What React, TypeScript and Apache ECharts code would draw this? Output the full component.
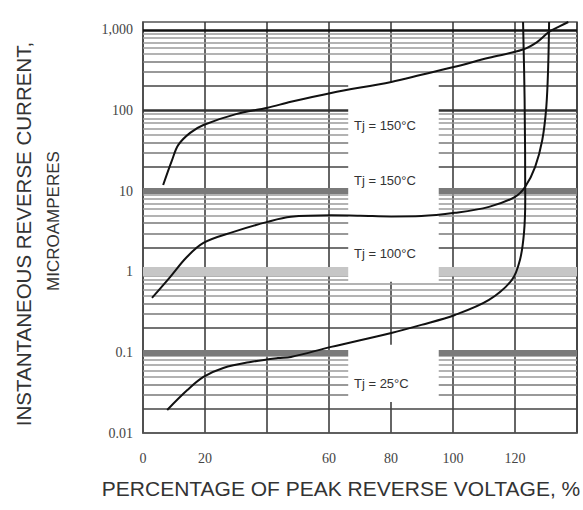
import React, { useEffect, useRef } from "react";
import * as echarts from "echarts";

// ---- Axis ticks / labels ----
const xTickValues = [0, 20, 40, 60, 80, 100, 120, 140];
const xTickLabels = ["0", "20", "", "60", "80", "100", "120", ""];
const yDecades = [0.01, 0.1, 1, 10, 100, 1000];
const yDecadeLabels = ["0.01", "0.1", "1", "10", "100", "1,000"];
const gridMultipliers = [1, 2, 3, 4, 5, 6, 7, 8, 9];

// ---- Curves (percent of peak reverse voltage, microamperes) ----
const upperX = [6.5, 9.4, 11.4, 15.2, 19.5, 30, 40.2, 47.7, 60.7, 80.1, 89.8, 100.6, 111.6, 122.3, 127, 131, 134.5, 137.2];
const upperY = [11.9, 24.4, 37.4, 52.7, 66, 90, 108, 128, 165, 226, 277, 348, 450, 565, 700, 944, 1110, 1250];

const middleX = [2.9, 8.8, 14, 19.5, 29.2, 40.2, 47.7, 60.7, 70, 80.1, 89.8, 100.6, 111.6, 120, 123.3, 126.5, 128.8, 130.1, 130.7, 131];
const middleY = [0.473, 0.863, 1.5, 2.28, 3.12, 4.15, 4.79, 5.0, 4.95, 4.85, 4.9, 5.37, 6.37, 8.47, 11.3, 20, 43, 111, 347, 1250];

const lowerX = [7.8, 14.3, 19.5, 25.9, 34.7, 43.5, 47.7, 60.7, 80.1, 89.8, 100.6, 111.6, 119, 121.6, 122.9, 123.3, 123.1, 122.6];
const lowerY = [0.0193, 0.0341, 0.0496, 0.064, 0.076, 0.085, 0.0877, 0.117, 0.174, 0.219, 0.291, 0.447, 0.79, 1.4, 3.03, 7.8, 135, 1250];

const curveLabels = ["Tj = 150°C", "Tj = 150°C", "Tj = 100°C", "Tj = 25°C"];

const xTitle = "PERCENTAGE OF PEAK REVERSE VOLTAGE, %";
const yTitle1 = "INSTANTANEOUS REVERSE CURRENT,";
const yTitle2 = "MICROAMPERES";

function pairs(xs: number[], ys: number[]) {
  return xs.map((x, i) => [x, ys[i]]);
}

function gridLineStyle(m: number, decade: number) {
  if (m === 1) {
    if (decade === 1000) return { color: "#111", width: 2.5, type: "solid" };
    if (decade === 100) return { color: "#333", width: 2.5, type: "solid" };
    if (decade === 10) return { color: "#7a7a7a", width: 6, type: "solid" };
    if (decade === 1) return { color: "#c6c6c6", width: 9, type: "solid" };
    if (decade === 0.1) return { color: "#7a7a7a", width: 6, type: "solid" };
  }
  if (m === 2) return { color: "#444", width: 1.5, type: "solid" };
  if (m === 3 || m === 4) return { color: "#777", width: 1.5, type: "solid" };
  return { color: "#9a9a9a", width: 1.5, type: "solid" };
}

export default function App() {
  const ref = useRef<HTMLDivElement>(null);

  useEffect(() => {
    if (!ref.current) return;
    const chart = echarts.init(ref.current, undefined, { renderer: "svg" });

    const hLines: any[] = [];
    yDecades.forEach((d) => {
      if (d === 0.01) {
        gridMultipliers.forEach((m) => {
          if (m > 1) hLines.push({ yAxis: m * d, lineStyle: gridLineStyle(m, d) });
        });
        return;
      }
      if (d === 1000) {
        hLines.push({ yAxis: d, lineStyle: gridLineStyle(1, d) });
        return;
      }
      gridMultipliers.forEach((m) => {
        hLines.push({ yAxis: +(m * d).toPrecision(6), lineStyle: gridLineStyle(m, d) });
      });
    });

    const font = "'Liberation Sans', Arial, sans-serif";
    const curveStyle = { color: "#111", width: 2 };

    chart.setOption({
      animation: false,
      backgroundColor: "#fff",
      grid: {
        left: 143,
        right: 6,
        top: 22,
        bottom: 77,
        show: true,
        borderColor: "#555",
        borderWidth: 1.5,
        containLabel: false,
        outerBoundsMode: "none",
      },
      xAxis: {
        type: "value",
        min: 0,
        max: 140,
        interval: 20,
        axisLine: { show: true, lineStyle: { color: "#555", width: 1.5 } },
        axisTick: { show: false },
        splitLine: { show: true, lineStyle: { color: "#333", width: 1.5 } },
        axisLabel: {
          margin: 18,
          fontSize: 14,
          fontFamily: "'Liberation Serif', 'Times New Roman', serif",
          color: "#444",
          formatter: (v: number) => {
            const i = xTickValues.indexOf(Math.round(v));
            return i >= 0 && Math.abs(v - Math.round(v)) < 1e-6 ? xTickLabels[i] : "";
          },
        },
      },
      yAxis: {
        type: "log",
        logBase: 10,
        min: 0.01,
        max: 1250,
        axisLine: { show: true, lineStyle: { color: "#555", width: 1.5 } },
        axisTick: { show: false },
        splitLine: { show: false },
        axisLabel: {
          margin: 10,
          fontSize: 14,
          fontFamily: "'Liberation Serif', 'Times New Roman', serif",
          color: "#444",
          formatter: (v: number) => {
            const lg = Math.log10(v);
            if (Math.abs(lg - Math.round(lg)) > 1e-6) return "";
            const i = yDecades.findIndex((d) => Math.abs(Math.log10(d) - lg) < 1e-6);
            return i >= 0 ? yDecadeLabels[i] : "";
          },
        },
      },
      series: [
        {
          name: "grid",
          type: "line",
          data: [],
          silent: true,
          markLine: {
            z: 1,
            silent: true,
            symbol: ["none", "none"],
            label: { show: false },
            emphasis: { disabled: true },
            lineStyle: { type: "solid" },
            data: hLines,
          },
          markArea: {
            z: 2,
            silent: true,
            label: { show: false },
            emphasis: { disabled: true },
            itemStyle: { color: "#fff", opacity: 1 },
            data: [
              [{ xAxis: 66.2, yAxis: 220 }, { xAxis: 95.4, yAxis: 0.75 }],
              [{ xAxis: 66.2, yAxis: 0.124 }, { xAxis: 95.4, yAxis: 0.0243 }],
            ],
          },
        },
        {
          name: "Tj = 150°C (upper)",
          type: "line",
          z: 3,
          smooth: 0.35,
          showSymbol: false,
          silent: true,
          lineStyle: curveStyle,
          data: pairs(upperX, upperY),
        },
        {
          name: "Tj = 100°C",
          type: "line",
          z: 3,
          smooth: 0.35,
          showSymbol: false,
          silent: true,
          lineStyle: curveStyle,
          data: pairs(middleX, middleY),
        },
        {
          name: "Tj = 25°C",
          type: "line",
          z: 3,
          smooth: 0.35,
          showSymbol: false,
          silent: true,
          lineStyle: curveStyle,
          data: pairs(lowerX, lowerY),
        },
      ],
      graphic: [
        ...[125, 180, 253, 383].map((y, i) => ({
          type: "text",
          x: 354,
          y,
          z: 10,
          style: {
            text: curveLabels[i],
            fontSize: 13,
            fontFamily: font,
            fill: "#333",
            align: "left",
            verticalAlign: "middle",
          },
        })),
        {
          type: "text",
          x: 341,
          y: 488,
          style: {
            text: xTitle,
            fontSize: 21,
            fontFamily: font,
            fill: "#333",
            align: "center",
            verticalAlign: "middle",
          },
        },
        {
          type: "text",
          x: 23,
          y: 234,
          rotation: Math.PI / 2,
          style: {
            text: yTitle1,
            fontSize: 20.5,
            fontFamily: font,
            fill: "#333",
            align: "center",
            verticalAlign: "middle",
          },
        },
        {
          type: "text",
          x: 53,
          y: 221,
          rotation: Math.PI / 2,
          style: {
            text: yTitle2,
            fontSize: 17,
            fontFamily: font,
            fill: "#333",
            align: "center",
            verticalAlign: "middle",
          },
        },
      ],
    });

    return () => chart.dispose();
  }, []);

  return (
    <div
      ref={ref}
      style={{ position: "absolute", left: 0, top: 0, width: 583, height: 510 }}
    />
  );
}
